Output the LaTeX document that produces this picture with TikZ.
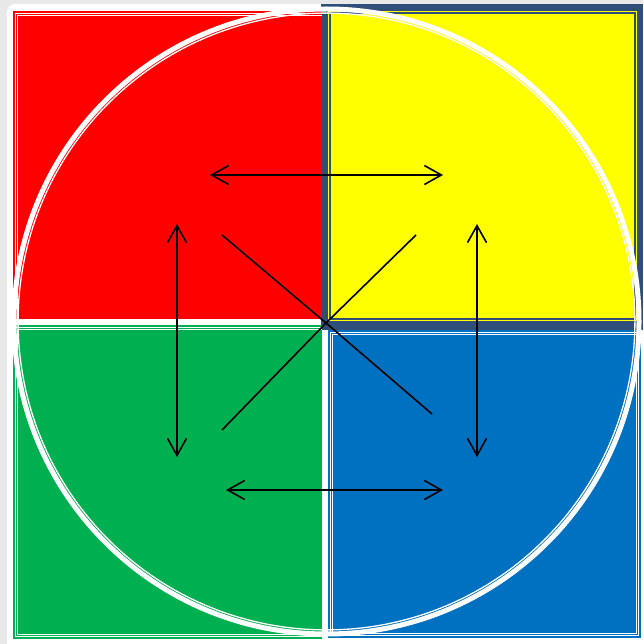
\documentclass[tikz,border=0pt]{standalone}
\usepackage{tikz}
\usetikzlibrary{positioning, arrows.meta, calc}

\definecolor{qred}{HTML}{FF0000}
\definecolor{qyellow}{HTML}{FFFF00}
\definecolor{qgreen}{HTML}{00B050}
\definecolor{qblue}{HTML}{0070C0}
\definecolor{qdark}{HTML}{2F4F7A}
\definecolor{qgray}{HTML}{E8E8E8}

\begin{document}
\begin{tikzpicture}[x=1pt, y=-1pt,
    quad/.style={rectangle, inner sep=0pt, outer sep=0pt},
    rim/.style={draw=white, line width=1pt, double distance=1pt},
    link/.style={line width=1.6pt, {Straight Barb[length=17pt, width=19pt]}-{Straight Barb[length=17pt, width=19pt]}},
    spoke/.style={line width=1.6pt}]
    \useasboundingbox (0,0) rectangle (643,644);
    \clip (0,0) rectangle (643,644);
    \fill[qgray] (0,0) rectangle (643,644);
    \fill[white, rounded corners=8pt] (7,4) rectangle (680,680);

    % four quarters
    \fill[qdark] (321,4) rectangle (643,330);
    \node (red) [quad, fill=qred, minimum width=309pt, minimum height=308pt] at (167.5,165) {};
    \node (yellow) [quad, fill=qyellow, minimum width=309pt, minimum height=310pt] at (482.5,166) {};
    \node (green) [quad, fill=qgreen, minimum width=309pt, minimum height=314pt] at (167.5,482) {};
    \node (blue) [quad, fill=qblue, minimum width=312.5pt, minimum height=308pt] at (484.25,484) {};

    \draw[rim, double=qred] ([shift={(3.5,0)}]red.south west) |- ([shift={(0,3.5)}]red.north east);
    \draw[rim, double=qgreen] ([shift={(0,3.5)}]green.north east) -| ([shift={(3.5,-3.5)}]green.south west) -- ([shift={(0,-3.5)}]green.south east);
    \draw[rim, double=qblue] ([shift={(3.5,3.5)}]blue.north west) rectangle ([shift={(-3.5,-3.5)}]blue.south east);
    \draw[qdark, line width=2pt] ([shift={(2,2)}]yellow.north west) rectangle ([shift={(-2,-2)}]yellow.south east);

    % ring
    \coordinate (hub) at (326,323);
    \coordinate (ring) at (326.5,321.5);
    \draw[white, line width=5pt] (ring) circle[radius=312.5];
    \draw[white, line width=1.3pt] (ring) circle[radius=308.4];

    % arrows
    \coordinate (topL) at (210,175);
    \coordinate (topR) at (443,175);
    \coordinate (botL) at (226,490);
    \coordinate (botR) at (443,490);
    \coordinate (leftT) at (177,224);
    \coordinate (leftB) at (177,457);
    \coordinate (rightT) at (477,224);
    \coordinate (rightB) at (477,457);
    \coordinate (nw) at (222,235);
    \coordinate (se) at (432,414);
    \coordinate (ne) at (416,235);
    \coordinate (sw) at (222,430);

    \draw[link] (topL) -- (topR);
    \draw[link] (botL) -- (botR);
    \draw[link] (leftT) -- (leftB);
    \draw[link] (rightT) -- (rightB);
    \draw[spoke] (nw) -- (hub) -- (se);
    \draw[spoke] (ne) -- (hub) -- (sw);
\end{tikzpicture}
\end{document}
